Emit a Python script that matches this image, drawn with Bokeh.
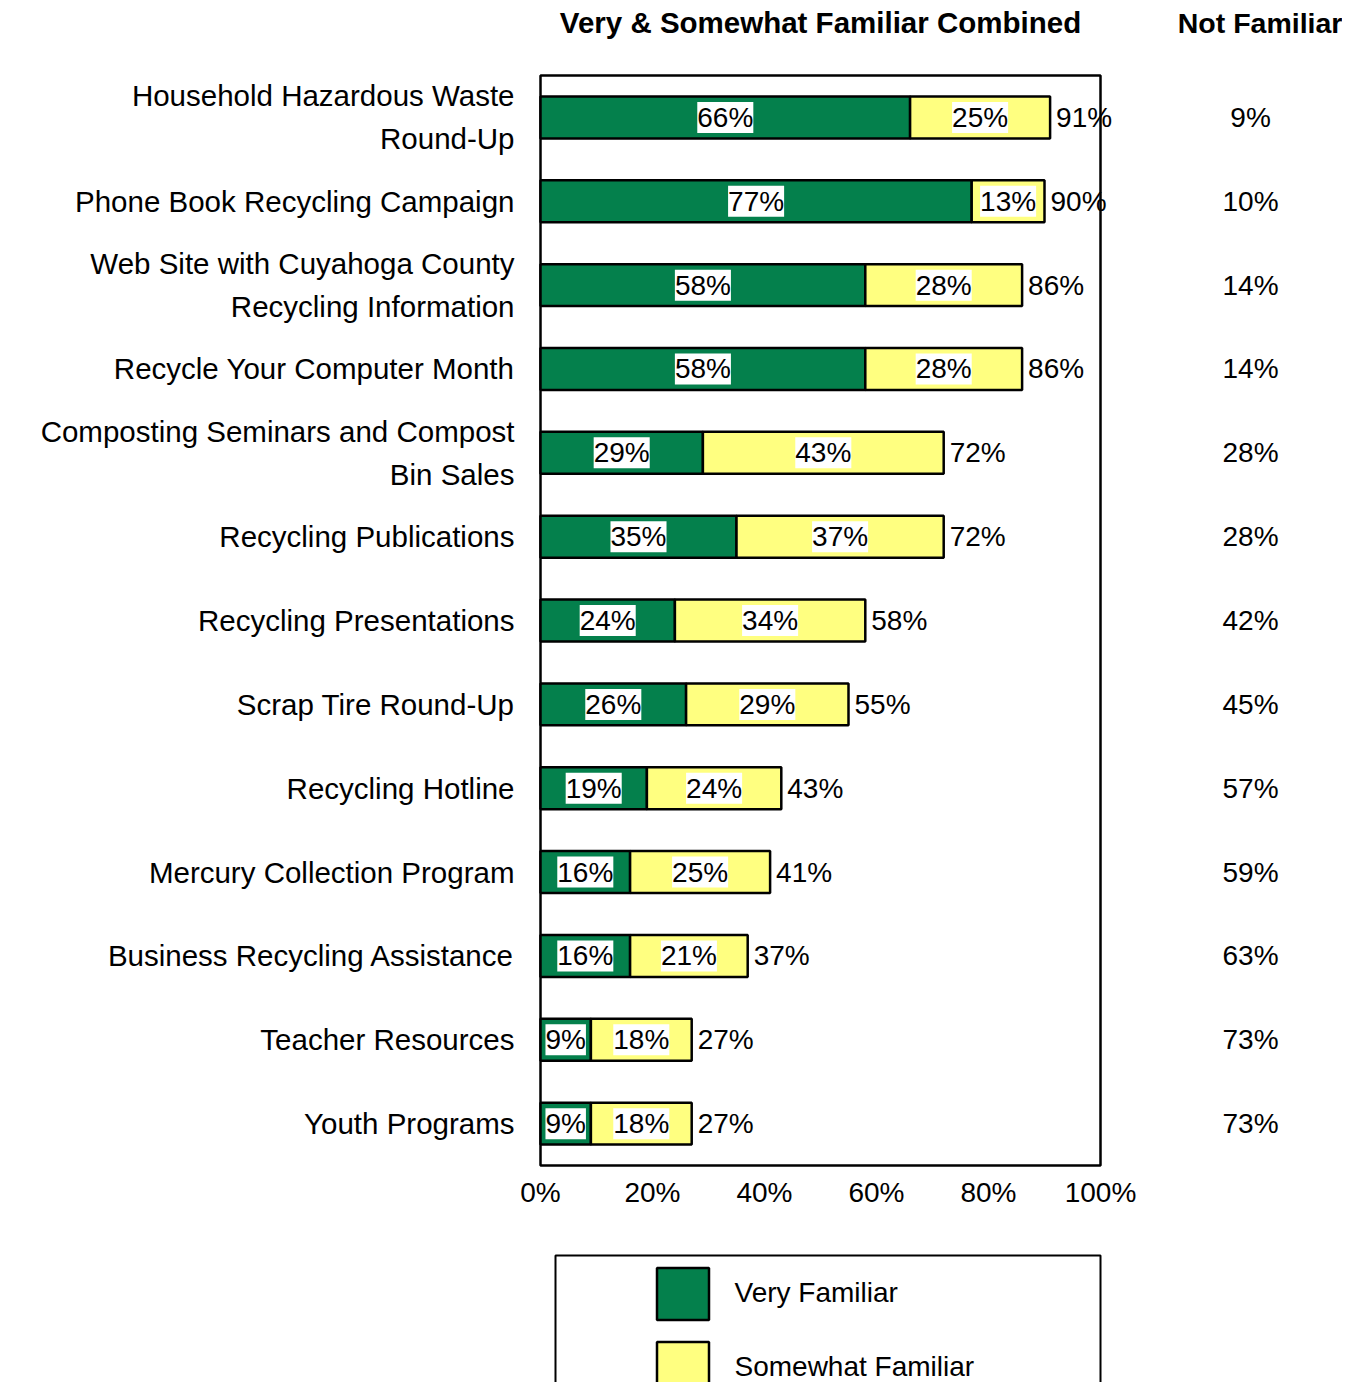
from bokeh.plotting import figure
from bokeh.models import (ColumnDataSource, Range1d, FixedTicker, LabelSet, Label,
                          Legend, LegendItem, PolyAnnotation)
from bokeh.core.properties import value
from bokeh.embed import file_html
from bokeh.resources import INLINE

# ---------------- data ----------------
categories = [
    "Household Hazardous Waste\nRound-Up",
    "Phone Book Recycling Campaign",
    "Web Site with Cuyahoga County\nRecycling Information",
    "Recycle Your Computer Month",
    "Composting Seminars and Compost\nBin Sales",
    "Recycling Publications",
    "Recycling Presentations",
    "Scrap Tire Round-Up",
    "Recycling Hotline",
    "Mercury Collection Program",
    "Business Recycling Assistance",
    "Teacher Resources",
    "Youth Programs",
]
very_familiar = [66, 77, 58, 58, 29, 35, 24, 26, 19, 16, 16, 9, 9]
somewhat_familiar = [25, 13, 28, 28, 43, 37, 34, 29, 24, 25, 21, 18, 18]
combined = [91, 90, 86, 86, 72, 72, 58, 55, 43, 41, 37, 27, 27]
not_familiar = [9, 10, 14, 14, 28, 28, 42, 45, 57, 59, 63, 73, 73]
x_ticks = [0, 20, 40, 60, 80, 100]
x_tick_labels = ["0%", "20%", "40%", "60%", "80%", "100%"]

GREEN = "#04804C"
YELLOW = "#FFFF80"
FONT = "Liberation Sans"
FS = "28px"

W, H = 1342, 1382
PX_X = 5.6      # pixels per percent
PX_Y = 83.85    # pixels per category
X0 = 540        # pixel position of 0 %
Y0 = 75         # pixel position of top of plot box

n = len(categories)
idx = list(range(n))
src = ColumnDataSource(dict(
    y=idx,
    very=very_familiar,
    some_right=[v + s for v, s in zip(very_familiar, somewhat_familiar)],
    very_mid=[v / 2 for v in very_familiar],
    some_mid=[v + s / 2 for v, s in zip(very_familiar, somewhat_familiar)],
    very_txt=[f"{v}%" for v in very_familiar],
    some_txt=[f"{s}%" for s in somewhat_familiar],
    tot=combined,
    tot_txt=[f"{t}%" for t in combined],
    nf_x=[126.8] * n,
    nf_txt=[f"{v}%" for v in not_familiar],
))

x_range = Range1d(-X0 / PX_X, (W - X0) / PX_X)
y_range = Range1d(-0.5 + (H - Y0) / PX_Y, -0.5 - Y0 / PX_Y)

p = figure(width=W, height=H, output_backend="svg", toolbar_location=None,
           x_range=x_range, y_range=y_range,
           min_border=0, min_border_left=0, min_border_right=0,
           min_border_top=0, min_border_bottom=0)
p.grid.visible = False
p.outline_line_color = None

# axes fixed at the plot box edges
p.xaxis.fixed_location = n - 0.5
p.yaxis.fixed_location = 0
p.xaxis.ticker = FixedTicker(ticks=x_ticks)
p.xaxis.major_label_overrides = {t: l for t, l in zip(x_ticks, x_tick_labels)}
p.yaxis.ticker = FixedTicker(ticks=idx)
p.yaxis.major_label_overrides = {i: c for i, c in zip(idx, categories)}
for ax in (p.xaxis, p.yaxis):
    ax.axis_line_color = None
    ax.major_tick_line_color = None
    ax.minor_tick_line_color = None
    ax.major_label_text_font = FONT
    ax.major_label_text_color = "black"
p.xaxis.major_label_text_font_size = FS
p.yaxis.major_label_text_font_size = "29.5px"
p.yaxis.major_label_standoff = 20
p.yaxis.major_label_text_line_height = 1.3
p.xaxis.major_label_standoff = 5

# plot box
p.quad(left=[0], right=[100], top=[-0.5], bottom=[n - 0.5], fill_color=None,
       line_color="black", line_width=2.5)

# bars
r_very = p.hbar(y="y", left=0, right="very", height=0.5, source=src,
                fill_color=GREEN, line_color="black", line_width=2.5)
r_some = p.hbar(y="y", left="very", right="some_right", height=0.5, source=src,
                fill_color=YELLOW, line_color="black", line_width=2.5)

lbl_kw = dict(text_font=value(FONT), text_font_size=value(FS), text_color="black",
              text_baseline="middle")
pad_kw = dict(padding=3) if "padding" in LabelSet.properties() else {}

p.add_layout(LabelSet(x="very_mid", y="y", text="very_txt", source=src,
                      text_align="center", background_fill_color="white",
                      **pad_kw, **lbl_kw))
p.add_layout(LabelSet(x="some_mid", y="y", text="some_txt", source=src,
                      text_align="center", background_fill_color="white",
                      **pad_kw, **lbl_kw))
p.add_layout(LabelSet(x="tot", y="y", text="tot_txt", source=src,
                      text_align="left", x_offset=6, **lbl_kw))
p.add_layout(LabelSet(x="nf_x", y="y", text="nf_txt", source=src,
                      text_align="center", **lbl_kw))

# column headers
title_y = -0.5 - (Y0 - 22) / PX_Y
p.add_layout(Label(x=50, y=title_y, text="Very & Somewhat Familiar Combined",
                   text_align="center", text_baseline="middle", text_font=FONT,
                   text_font_size="29.5px", text_font_style="bold",
                   text_color="black"))
p.add_layout(Label(x=128.5, y=title_y, text="Not Familiar",
                   text_align="center", text_baseline="middle", text_font=FONT,
                   text_font_size="28.5px", text_font_style="bold",
                   text_color="black"))

# legend frame
lg_top = -0.5 + (1255 - Y0) / PX_Y
lg_bot = -0.5 + (1430 - Y0) / PX_Y
lg_left = (555 - X0) / PX_X
p.add_layout(PolyAnnotation(xs=[lg_left, lg_left, 100, 100],
                            ys=[lg_bot, lg_top, lg_top, lg_bot],
                            fill_alpha=0, line_color="black", line_alpha=1.0,
                            line_width=2))

legend = Legend(items=[LegendItem(label="Very Familiar", renderers=[r_very]),
                       LegendItem(label="Somewhat Familiar", renderers=[r_some])],
                location=(649.5, H - 1260.5 - 139), orientation="vertical",
                glyph_width=65, glyph_height=65, spacing=9, label_standoff=20,
                padding=0, margin=0, border_line_color=None,
                background_fill_alpha=0, label_text_font=FONT,
                label_text_font_size=FS, label_text_color="black")
p.add_layout(legend, "center")

open("out.html", "w").write(file_html(p, INLINE))
